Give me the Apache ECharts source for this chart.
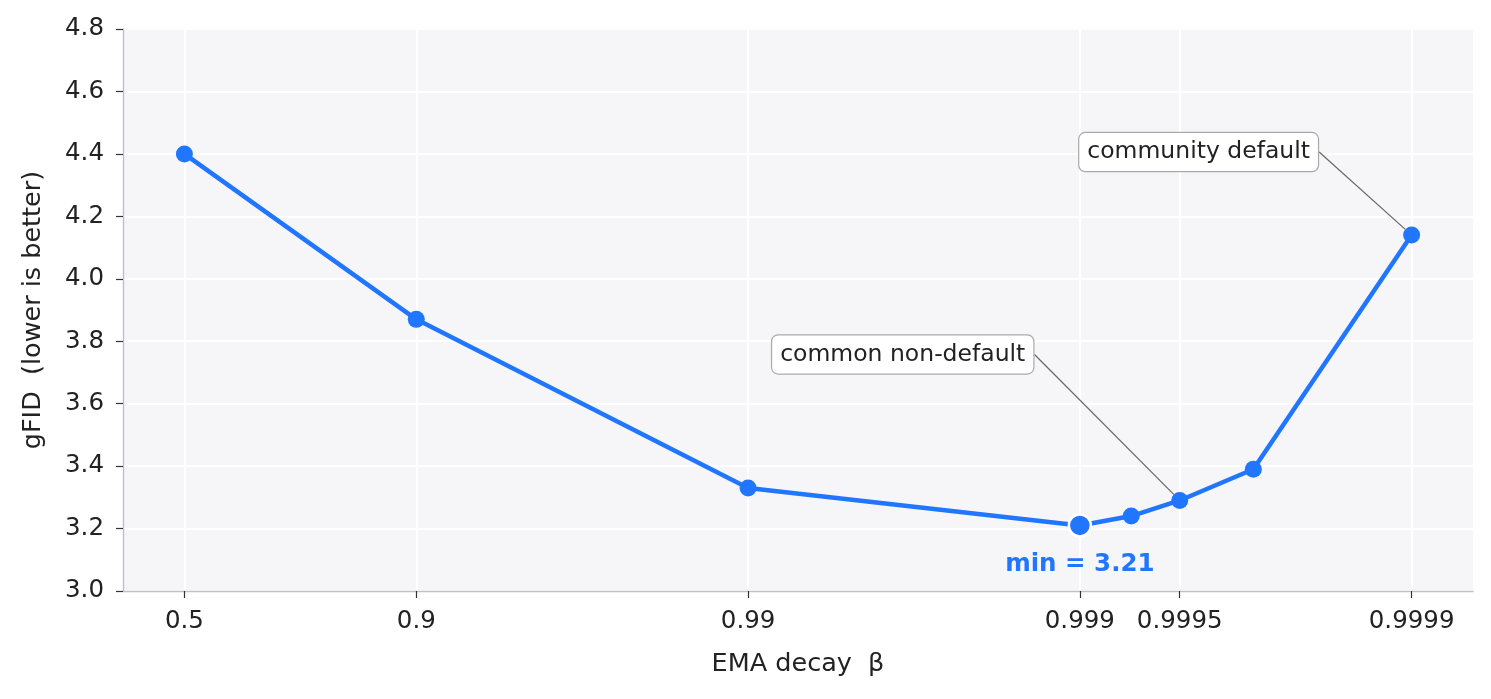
<!DOCTYPE html>
<html>
<head>
<meta charset="utf-8">
<script src="https://cdn.jsdelivr.net/npm/echarts@6/dist/echarts.min.js"></script>
<style>
  html, body { margin: 0; padding: 0; background: #fff; }
  #chart { width: 1491px; height: 699px; }
</style>
</head>
<body>
<div id="chart"></div>
<script>
// data
const betaTicks = [0.5, 0.9, 0.99, 0.999, 0.9995, 0.9999];
const betaTickLabels = ['0.5', '0.9', '0.99', '0.999', '0.9995', '0.9999'];
const betas = [0.5, 0.9, 0.99, 0.999, 0.9993, 0.9995, 0.9997, 0.9999];
const gfid = [4.40, 3.87, 3.33, 3.21, 3.24, 3.29, 3.39, 4.14];
const noteText = ['', '', '', '', '', 'common non-default', '', 'community default'];
const noteShift = [null, null, null, null, null, [-277, -146], null, [-213, -83]];

const blue = '#2176ff';
const textColor = '#222';
const font = 'DejaVu Sans';

// x axis is -log10(1 - beta)
const toX = (b) => -Math.log10(1 - b);
const tickPos = betaTicks.map(toX);

const minIdx = gfid.indexOf(Math.min(...gfid));

const points = betas.map((b, i) => {
  const item = { value: [toX(b), gfid[i]] };
  if (i === minIdx) {
    item.symbolSize = 22;
    item.itemStyle = { borderColor: '#fff', borderWidth: 2.5 };
    item.label = {
      show: true, position: 'bottom', distance: 14,
      formatter: 'min = ' + gfid[i].toFixed(2),
      color: blue, fontWeight: 'bold', fontSize: 24.5, fontFamily: font
    };
  } else if (noteText[i]) {
    item.label = {
      show: true, position: 'inside',
      formatter: noteText[i],
      color: textColor, fontSize: 23.5, fontFamily: font,
      backgroundColor: '#fff', borderColor: '#aaa', borderWidth: 1.2, borderRadius: 6,
      padding: [8, 8, 6, 8]
    };
    item.labelLine = { show: true, smooth: i === 5 ? 0.4 : false, lineStyle: { color: '#666', width: 1.2 } };
  }
  return item;
});

const chart = echarts.init(document.getElementById('chart'), null, { renderer: 'canvas' });

chart.setOption({
  backgroundColor: '#fff',
  animation: false,
  textStyle: { fontFamily: font, color: textColor },
  grid: {
    left: 123, right: 18, top: 29, bottom: 108,
    show: true, backgroundColor: '#f6f6f9', borderWidth: 0
  },
  xAxis: {
    type: 'value', min: 0.116, max: 4.185,
    name: 'EMA decay  β', nameLocation: 'middle', nameGap: 60,
    nameTextStyle: { fontSize: 25.5, color: textColor, fontFamily: font },
    axisLine: { show: true, lineStyle: { color: '#bfc0c8', width: 1.4 } },
    axisTick: { show: true, customValues: tickPos, length: 7, lineStyle: { color: '#333', width: 1.2 } },
    axisLabel: {
      customValues: tickPos, fontSize: 24.5, color: textColor, margin: 18, fontFamily: font,
      formatter: (v) => {
        let best = 0;
        tickPos.forEach((p, k) => { if (Math.abs(p - v) < Math.abs(tickPos[best] - v)) best = k; });
        return betaTickLabels[best];
      }
    },
    splitLine: { show: true, lineStyle: { color: '#fff', width: 2 } }
  },
  yAxis: {
    type: 'value', min: 3.0, max: 4.8, interval: 0.2,
    name: 'gFID  (lower is better)', nameLocation: 'middle', nameGap: 77,
    nameTextStyle: { fontSize: 25.5, color: textColor, fontFamily: font },
    axisLine: { show: true, lineStyle: { color: '#bfc0c8', width: 1.4 } },
    axisTick: { show: true, length: 7, lineStyle: { color: '#333', width: 1.2 } },
    axisLabel: { fontSize: 24.5, color: textColor, margin: 19, fontFamily: font, formatter: (v) => v.toFixed(1) },
    splitLine: { show: true, lineStyle: { color: '#fff', width: 2 } }
  },
  series: [{
    type: 'line',
    data: points,
    symbol: 'circle',
    symbolSize: 17,
    lineStyle: { color: blue, width: 4.5 },
    itemStyle: { color: blue },
    z: 3,
    labelLayout: (p) => {
      const s = noteShift[p.dataIndex];
      return s ? { dx: s[0], dy: s[1] } : {};
    }
  }]
});
</script>
</body>
</html>
